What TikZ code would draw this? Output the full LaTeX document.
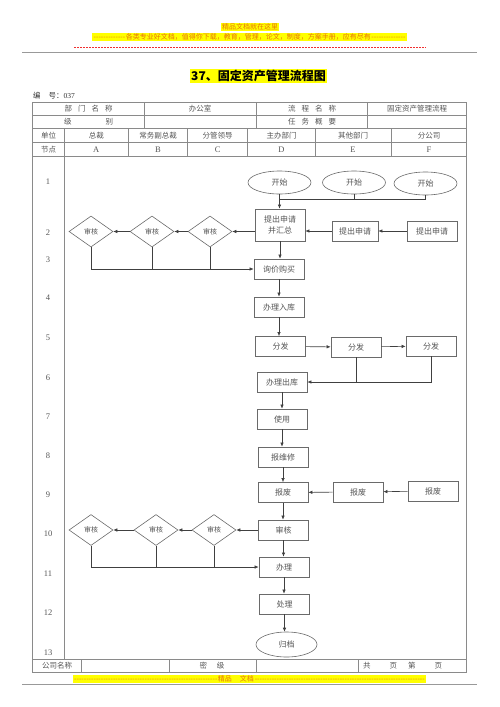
\documentclass[tikz,border=0pt]{standalone}
\usepackage{fontspec}
\setmainfont{Liberation Serif}
\newfontfamily\cjk{Noto Sans CJK SC}
\usetikzlibrary{arrows.meta,positioning,shapes.geometric,calc}

\definecolor{rulegray}{HTML}{8A8A8A}
\definecolor{ink}{HTML}{555555}
\definecolor{boxline}{HTML}{6A6A6A}
\definecolor{hlyellow}{HTML}{FFFF00}
\definecolor{adorange}{HTML}{E8740C}
\definecolor{adred}{HTML}{F03030}

\newcommand\dashfill[1]{\leavevmode\cleaders\hbox{-}\hskip#1\relax\kern0pt}

\begin{document}
\begin{tikzpicture}[x=1pt, y=-1pt,
          rule/.style   = {draw=rulegray, line width=0.6pt},
          cell/.style   = {font=\cjk\fontsize{7.5}{9}\selectfont, text=ink, inner sep=0pt},
          letter/.style = {font=\fontsize{8.5}{10}\selectfont, text=ink, inner sep=0pt},
          proc/.style   = {draw=boxline, line width=0.7pt, minimum width=50, minimum height=20,
                           inner sep=1pt, align=center, text=ink, font=\cjk\fontsize{8}{11}\selectfont},
          dec/.style    = {diamond, draw=boxline, line width=0.6pt, minimum width=44, minimum height=31,
                           aspect=1.4, inner sep=0pt, text=ink, font=\cjk\fontsize{7}{8}\selectfont},
          term/.style   = {ellipse, draw=boxline, line width=0.6pt, minimum width=63, minimum height=23,
                           inner sep=0pt, text=ink, font=\cjk\fontsize{8}{9}\selectfont},
          wire/.style   = {draw=black!75, line width=0.6pt},
          flow/.style   = {wire, -{Latex[length=4pt,width=3.5pt]}},
          advert/.style = {fill=hlyellow, inner sep=0.6pt, text=adorange, font=\cjk\fontsize{7}{8}\selectfont}
        ]
        \useasboundingbox (0,0) rectangle (500,707);

        % --- page header
        \node[advert] (adtop)  at (250,27) {精品文档就在这里};
        \node[advert] (adline) at (249.5,37) {\dashfill{33pt}各类专业好文档，值得你下载，教育，管理，论文，制度，方案手册，应有尽有\dashfill{35pt}};
        \draw[adred, line width=0.7pt, dash pattern=on 2pt off 1pt] (74,47) -- (426,47);
        \draw[draw=black!40, line width=1pt] (22,52) -- (477,52);

        \node[fill=hlyellow, inner sep=1pt, font=\cjk\bfseries\fontsize{12}{14}\selectfont] (title) at (258.5,76) {37、固定资产管理流程图};
        \node[anchor=west, inner sep=0pt, text=black!80, font=\fontsize{7.5}{9}\selectfont] (code) at (33,96) {{\cjk 编\hspace{8pt}号：}037};

        % --- table frame
        \draw[rule] (32.7,102.7) rectangle (466.7,672.7);
        \foreach \y in {115,128.7,142.7,156.7,659}
          \draw[rule] (32.7,\y) -- (466.7,\y);
        \foreach \x in {144.3,256,367.7}
          \draw[rule] (\x,102.7) -- (\x,128.7);
        \foreach \x in {128.3,187.7,247.7,315.3,391}
          \draw[rule] (\x,128.7) -- (\x,156.7);
        \draw[rule] (64.3,128.7) -- (64.3,659);
        \foreach \x in {81.7,169,256,358.7}
          \draw[rule] (\x,659) -- (\x,672.7);

        % --- table texts
        \node[cell] (deptname) at (88.5,109)  {部\hspace{6pt}门\hspace{6pt}名\hspace{6pt}称};
        \node[cell] (deptval)  at (200,109)   {办公室};
        \node[cell] (procname) at (312,109)   {流\hspace{6pt}程\hspace{6pt}名\hspace{6pt}称};
        \node[cell] (procval)  at (417,109)   {固定资产管理流程};
        \node[cell] (level)    at (88.5,122)  {级\hspace{34pt}别};
        \node[cell] (summary)  at (312,122)   {任\hspace{6pt}务\hspace{6pt}概\hspace{6pt}要};

        \node[cell] (unit)  at (48.5,135.7) {单位};
        \node[cell] (unitA) at (96.3,135.7) {总裁};
        \node[cell] (unitB) at (158,135.7)  {常务副总裁};
        \node[cell] (unitC) at (217.7,135.7){分管领导};
        \node[cell] (unitD) at (281.5,135.7){主办部门};
        \node[cell] (unitE) at (353,135.7)  {其他部门};
        \node[cell] (unitF) at (429,135.7)  {分公司};

        \node[cell] (node) at (48.5,149.7) {节点};
        \foreach \c/\x in {A/96.3,B/158,C/217.7,D/281.5,E/353,F/429}
          \node[letter] (col\c) at (\x,149.7) {\c};

        \foreach \n/\y in {1/181.7,2/233,3/259.5,4/298,5/338,6/378,7/417,8/456,9/495,10/534,11/574,12/613,13/653}
          \node[letter] (row\n) at (48,\y) {\n};

        % --- footer
        \node[cell] (company) at (57,666)   {公司名称};
        \node[cell] (secret)  at (212,666)  {密\hspace{10pt}级};
        \node[cell, anchor=west] (pages) at (363,666) {共\hspace{19pt}页\hspace{11pt}第\hspace{19pt}页};
        \node[advert, anchor=west] (adbottom) at (73,679) {\dashfill{144pt}精品\hspace{8pt}文档\dashfill{172pt}};
        \draw[draw=black!40, line width=1pt] (22,684) -- (477,684);

        % --- flow: request
        \node[term] (startD) at (279.5,182.5) {开始};
        \node[term] (startE) at (354,182.5)   {开始};
        \node[term] (startF) at (425.5,183.5) {开始};
        \node[proc, minimum height=32] (apply) at (280,225) {提出申请\\并汇总};
        \node[proc, minimum width=46] (applyE) at (355,231) {提出申请};
        \node[proc] (applyF) at (432,231) {提出申请};
        \node[dec] (chkC) at (210,231.5) {审核};
        \node[dec] (chkB) at (152,231.5) {审核};
        \node[dec] (chkA) at (91,231.5)  {审核};
        \node[proc] (inquire) at (279,269) {询价购买};
        \node[proc] (stock) at (279,307) {办理入库};

        % --- flow: distribution and use
        \node[proc] (distD) at (280.5,346.5) {分发};
        \node[proc] (distE) at (356,347)     {分发};
        \node[proc] (distF) at (431,346)     {分发};
        \node[proc] (issue) at (282,382)  {办理出库};
        \node[proc] (use) at (282,419)    {使用};
        \node[proc] (repair) at (283,457) {报维修};

        % --- flow: scrapping
        \node[proc] (scrapD) at (283,492.5) {报废};
        \node[proc] (scrapE) at (358,492)   {报废};
        \node[proc] (scrapF) at (433,491)   {报废};
        \node[proc] (review) at (283.5,530) {审核};
        \node[dec] (revC) at (214,530) {审核};
        \node[dec] (revB) at (156,530) {审核};
        \node[dec] (revA) at (91,530)  {审核};
        \node[proc] (handle) at (284,567)    {办理};
        \node[proc] (process) at (284.5,604) {处理};
        \node[term, minimum width=61, minimum height=25] (archive) at (286.5,644.5) {归档};

        \coordinate (mergeTop) at (280,199);

        % --- connectors
        \draw[wire] (startF.south) |- (mergeTop);
        \draw[wire] (startE.south) -- (startE.south |- mergeTop);
        \draw[flow] (startD.south) -- (startD.south |- apply.north);
        \draw[flow] (applyF) -- (applyE);
        \draw[flow] (applyE.west) -- (applyE.west -| apply.east);
        \draw[flow] (apply.west |- chkC) -- (chkC.east);
        \draw[flow] (chkC) -- (chkB);
        \draw[flow] (chkB) -- (chkA);
        \draw[flow] (chkA.south) |- (inquire.west);
        \draw[wire] (chkB.south) -- (chkB.south |- inquire.west);
        \draw[wire] (chkC.south) -- (chkC.south |- inquire.west);
        \draw[flow] (apply.south) -- (apply.south |- inquire.north);
        \draw[flow] (inquire.south) -- (inquire.south |- stock.north);
        \draw[flow] (stock.south) -- (stock.south |- distD.north);
        \draw[flow] (distD) -- (distE);
        \draw[flow] (distE) -- (distF);
        \draw[flow] (distF.south) |- (issue.east);
        \draw[wire] (distE.south) -- (distE.south |- issue.east);
        \draw[flow] (issue.south) -- (issue.south |- use.north);
        \draw[flow] (use.south) -- (use.south |- repair.north);
        \draw[flow] (repair.south) -- (repair.south |- scrapD.north);
        \draw[flow] (scrapF) -- (scrapE);
        \draw[flow] (scrapE) -- (scrapD);
        \draw[flow] (scrapD.south) -- (scrapD.south |- review.north);
        \draw[flow] (review) -- (revC);
        \draw[flow] (revC) -- (revB);
        \draw[flow] (revB) -- (revA);
        \draw[flow] (revA.south) |- (handle.west);
        \draw[wire] (revB.south) -- (revB.south |- handle.west);
        \draw[wire] (revC.south) -- (revC.south |- handle.west);
        \draw[flow] (review.south) -- (review.south |- handle.north);
        \draw[flow] (handle.south) -- (handle.south |- process.north);
        \draw[flow] (process.south) -- (process.south |- archive.north);
    \end{tikzpicture}
\end{document}
